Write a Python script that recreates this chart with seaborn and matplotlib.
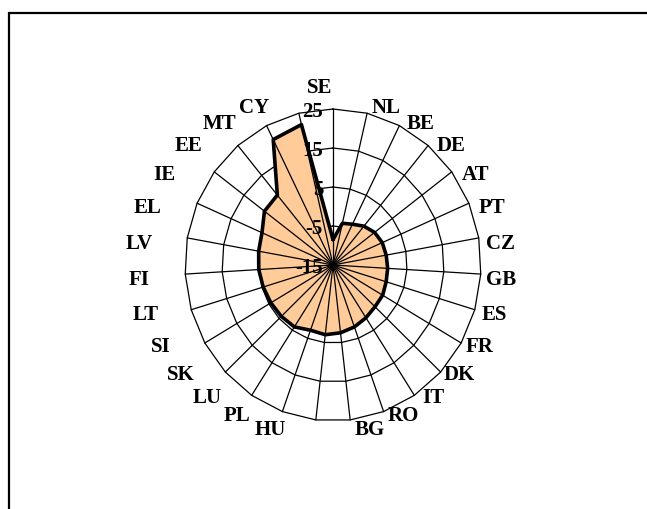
import numpy as np
import pandas as pd
import matplotlib
matplotlib.use("Agg")
import matplotlib.pyplot as plt
import matplotlib.transforms as mtransforms
from matplotlib.patches import Rectangle
import seaborn as sns

# Categories (clockwise from the top) and their values
countries = ["SE", "NL", "BE", "DE", "AT", "PT", "CZ", "GB", "ES", "FR", "DK", "IT",
             "RO", "BG", "HU", "PL", "LU", "SK", "SI", "LT", "FI", "LV", "EL", "IE",
             "EE", "MT", "CY"]
values = [-8.5, -4.0, -3.3, -2.0, -1.0, -0.5, -0.4, -0.2, 0.0, 0.5, 0.6, 1.2,
          1.9, 2.5, 3.0, 2.8, 4.0, 4.2, 4.4, 4.7, 5.1, 5.4, 5.9, 8.1,
          8.4, 21.0, 22.0]
ring_levels = [-15, -5, 5, 15, 25]

sns.set_theme(style="white")
plt.rcParams["font.family"] = ["Liberation Serif", "DejaVu Serif"]
plt.rcParams["text.color"] = "black"

W, H = 647, 509
fig = plt.figure(figsize=(W / 100, H / 100), dpi=100)
fig.patch.set_facecolor("white")

# radar area: centre and half-extents in pixels
cx, cy, rx, ry = 333, 265, 148, 156
ax = fig.add_axes([(cx - rx) / W, (H - cy - ry) / H, 2 * rx / W, 2 * ry / H],
                  projection="polar")
ax.set_aspect("auto")
ax.set_theta_zero_location("N")
ax.set_theta_direction(-1)
ax.set_ylim(ring_levels[0], ring_levels[-1])
ax.grid(False)
ax.set_xticks([])
ax.set_yticks([])
ax.spines["polar"].set_visible(False)
ax.patch.set_visible(False)

n = len(countries)
theta = np.arange(n) * 2 * np.pi / n
closed_theta = np.append(theta, theta[0])
closed_vals = np.append(values, values[0])

# polygonal gridlines
for lev in ring_levels[1:]:
    ax.plot(closed_theta, np.full(n + 1, lev), color="black", lw=0.9,
            zorder=1, clip_on=False)

# filled area
ax.fill(closed_theta, closed_vals, color="#FFCC99", lw=0, zorder=2)

# spokes
for t in theta:
    ax.plot([t, t], [ring_levels[0], ring_levels[-1]], color="black", lw=0.9,
            zorder=3, clip_on=False)

# outline of the series
df = pd.DataFrame({"theta": closed_theta, "value": closed_vals})
sns.lineplot(data=df, x="theta", y="value", sort=False, estimator=None,
             color="black", lw=2.6, ax=ax, zorder=4)
ax.set_xlabel("")
ax.set_ylabel("")

label_size = 15

# radial value labels along the top spoke
trans = mtransforms.offset_copy(ax.transData, fig=fig, x=-10, y=-3, units="dots")
for lev in ring_levels:
    ax.text(0, lev, f"{lev}", transform=trans, ha="right", va="center",
            fontsize=label_size, fontweight="bold", color="black", zorder=5,
            clip_on=False)

# category labels around the chart
for t, name in zip(theta, countries):
    s, c = np.sin(t), np.cos(t)
    shift = np.sign(np.round(s, 6)) * 11 * c + 4 * s
    phi = t + np.radians(shift)
    k = 1.08 + 0.15 * np.sin(phi) ** 2 - 0.05 * np.cos(phi) + 0.06 * np.cos(phi) ** 40
    px = 320 + rx * k * np.sin(phi)
    py = 258 - ry * k * np.cos(phi)
    fig.text(px / W, 1 - py / H, name, ha="center", va="center",
             fontsize=label_size, fontweight="bold", color="black")

# outer frame
fig.add_artist(Rectangle((8.5 / W, -0.05), 1.2, 1.05 - 12.5 / H,
                         transform=fig.transFigure, fill=False,
                         lw=1.6, ec="black"))

fig.savefig("out.png", dpi=100, facecolor="white")
